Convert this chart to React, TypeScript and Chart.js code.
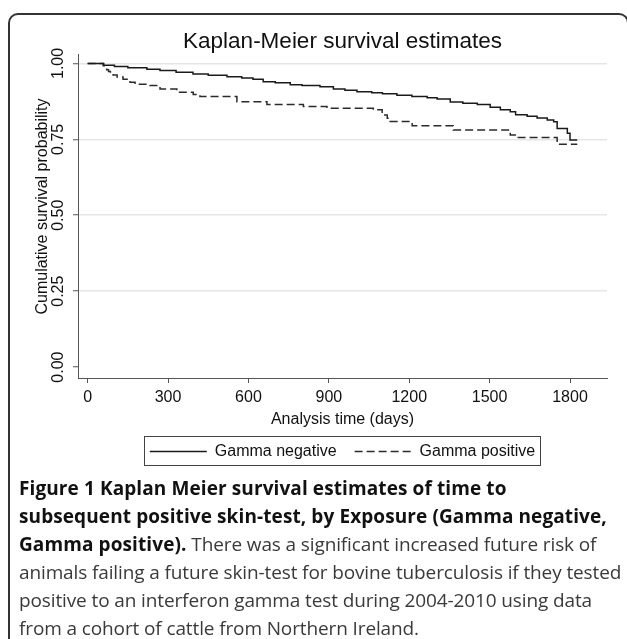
import React, { useEffect, useRef } from 'react';
import { Chart, registerables } from 'chart.js';

Chart.register(...registerables);

const TITLE = 'Kaplan-Meier survival estimates';
const X_TITLE = 'Analysis time (days)';
const Y_TITLE = 'Cumulative survival probability';
const SERIES_NAMES = ['Gamma negative', 'Gamma positive'];
const X_TICKS = [0, 300, 600, 900, 1200, 1500, 1800];
const Y_TICKS = [0, 0.25, 0.5, 0.75, 1];

const NEG_DAYS = [0, 60, 100, 150, 221, 270, 330, 393, 450, 520, 575, 617, 655, 700, 756, 800, 867, 917, 960, 1005, 1060, 1100, 1154, 1210, 1267, 1304, 1353, 1400, 1454, 1502, 1540, 1577, 1597, 1640, 1677, 1715, 1739, 1752, 1790, 1800, 1827];
const NEG_SURV = [1, 0.994, 0.99, 0.986, 0.981, 0.977, 0.971, 0.965, 0.961, 0.956, 0.952, 0.948, 0.94, 0.936, 0.93, 0.927, 0.923, 0.916, 0.912, 0.907, 0.903, 0.9, 0.895, 0.891, 0.887, 0.883, 0.873, 0.869, 0.865, 0.856, 0.847, 0.841, 0.831, 0.826, 0.82, 0.814, 0.808, 0.786, 0.77, 0.748, 0.748];

const POS_DAYS = [0, 58, 65, 71, 78, 85, 95, 110, 132, 158, 177, 233, 270, 333, 394, 419, 557, 669, 805, 893, 1066, 1099, 1118, 1129, 1211, 1364, 1577, 1603, 1752, 1827];
const POS_SURV = [1, 0.992, 0.985, 0.979, 0.973, 0.968, 0.962, 0.955, 0.948, 0.938, 0.931, 0.927, 0.916, 0.905, 0.898, 0.891, 0.874, 0.865, 0.858, 0.852, 0.847, 0.83, 0.819, 0.809, 0.795, 0.781, 0.764, 0.756, 0.734, 0.734];

const CAPTION_BOLD_1 = 'Figure 1 Kaplan Meier survival estimates of time to';
const CAPTION_BOLD_2 = 'subsequent positive skin-test, by Exposure (Gamma negative,';
const CAPTION_BOLD_3 = 'Gamma positive).';
const CAPTION_REG_3 = ' There was a significant increased future risk of';
const CAPTION_REG_4 = 'animals failing a future skin-test for bovine tuberculosis if they tested';
const CAPTION_REG_5 = 'positive to an interferon gamma test during 2004-2010 using data';
const CAPTION_REG_6 = 'from a cohort of cattle from Northern Ireland.';

const FONT = '"Liberation Sans", Arial, Helvetica, sans-serif';

const decorPlugin = {
  id: 'decor',
  afterDraw(chart: any) {
    const { ctx, chartArea, legend } = chart;
    ctx.save();
    ctx.translate(43, (chartArea.top + chartArea.bottom) / 2 - 9.5);
    ctx.rotate(-Math.PI / 2);
    ctx.font = `16px ${FONT}`;
    ctx.fillStyle = '#111';
    ctx.textAlign = 'center';
    ctx.textBaseline = 'middle';
    ctx.fillText(Y_TITLE, 0, 0);
    ctx.restore();

    const hb = legend && legend.legendHitBoxes;
    if (hb && hb.length) {
      const last = hb[hb.length - 1];
      const l = hb[0].left - 6;
      const r = last.left + last.width + 5;
      const t = legend.top + 10.5;
      const b = legend.top + 39.5;
      ctx.save();
      ctx.strokeStyle = '#444';
      ctx.lineWidth = 1;
      ctx.strokeRect(Math.round(l) + 0.5, Math.round(t) + 0.5, Math.round(r - l), Math.round(b - t));
      ctx.restore();
    }
  },
};

export default function App() {
  const ref = useRef<HTMLCanvasElement>(null);

  useEffect(() => {
    const canvas = ref.current;
    if (!canvas) return;
    const chart = new Chart(canvas, {
      type: 'line',
      data: {
        datasets: [
          {
            label: SERIES_NAMES[0],
            data: NEG_DAYS.map((d, i) => ({ x: d, y: NEG_SURV[i] })),
            borderColor: '#1a1a1a',
            backgroundColor: '#1a1a1a',
            borderWidth: 1.5,
            stepped: true,
            pointRadius: 0,
            fill: false,
          },
          {
            label: SERIES_NAMES[1],
            data: POS_DAYS.map((d, i) => ({ x: d, y: POS_SURV[i] })),
            borderColor: '#2b2b2b',
            backgroundColor: '#2b2b2b',
            borderWidth: 1.5,
            borderDash: [8, 4],
            stepped: true,
            pointRadius: 0,
            fill: false,
          },
        ],
      },
      options: {
        responsive: false,
        animation: false,
        devicePixelRatio: 1,
        layout: { padding: { left: 0, right: 20, top: 0, bottom: 10.5 } },
        plugins: {
          title: {
            display: true,
            text: TITLE,
            fullSize: false,
            color: '#111',
            font: { family: FONT, size: 22.5, weight: 'normal', lineHeight: 1 },
            padding: { top: 31, bottom: 0.5 },
          },
          legend: {
            position: 'bottom',
            fullSize: false,
            labels: {
              usePointStyle: true,
              pointStyle: 'line',
              pointStyleWidth: 57,
              padding: 18,
              color: '#111',
              font: { family: FONT, size: 16 },
              generateLabels: (c: any) => {
                const items = (Chart.defaults as any).plugins.legend.labels.generateLabels(c);
                items.forEach((it: any) => {
                  const ds = c.data.datasets[it.datasetIndex];
                  it.lineDash = ds.borderDash || [];
                  it.lineWidth = ds.borderWidth;
                  it.strokeStyle = ds.borderColor;
                });
                return items;
              },
            },
          },
          tooltip: { enabled: false },
        },
        scales: {
          x: {
            type: 'linear',
            min: -36,
            max: 1938,
            afterBuildTicks: (s: any) => {
              s.ticks = X_TICKS.map((v) => ({ value: v }));
            },
            afterFit: (s: any) => {
              s.height = 47.5;
            },
            ticks: {
              color: '#111',
              padding: 5,
              maxRotation: 0,
              font: { family: FONT, size: 16 },
              callback: (v: any) => String(v),
            },
            grid: { drawOnChartArea: false, drawTicks: true, tickLength: 5, tickColor: '#555', tickWidth: 1 },
            border: { display: true, color: '#555', width: 1 },
            title: {
              display: true,
              text: X_TITLE,
              color: '#111',
              font: { family: FONT, size: 16, lineHeight: 1 },
              padding: { top: 0, bottom: -2 },
            },
          },
          y: {
            type: 'linear',
            min: -0.036,
            max: 1.031,
            afterBuildTicks: (s: any) => {
              s.ticks = Y_TICKS.map((v) => ({ value: v }));
            },
            afterFit: (s: any) => {
              s.width = 78;
            },
            ticks: {
              color: '#111',
              minRotation: 90,
              maxRotation: 90,
              crossAlign: 'center',
              padding: -1,
              font: { family: FONT, size: 16 },
              callback: (v: any) => Number(v).toFixed(2),
            },
            grid: {
              color: (c: any) => (c.tick && c.tick.value === 0 ? 'rgba(0,0,0,0)' : '#e6e6e6'),
              lineWidth: 1.5,
              drawTicks: true,
              tickLength: 5,
              tickColor: '#555',
              tickWidth: 1,
            },
            border: { display: true, color: '#555', width: 1 },
          },
        },
      } as any,
      plugins: [decorPlugin],
    });
    return () => chart.destroy();
  }, []);

  const capBase: React.CSSProperties = { height: 28, whiteSpace: 'nowrap' };
  const bold: React.CSSProperties = { fontWeight: 700, color: '#111', letterSpacing: 0.1 };

  return (
    <div style={{ position: 'fixed', left: 0, top: 0, width: 627, height: 639, overflow: 'hidden', background: '#fff' }}>
      <div
        style={{
          position: 'absolute',
          left: 8,
          top: 13,
          width: 621,
          height: 700,
          border: '2px solid #333',
          borderRadius: 10,
          boxSizing: 'border-box',
        }}
      />
      <canvas ref={ref} width={627} height={480} style={{ position: 'absolute', left: 0, top: 0, width: 627, height: 480 }} />
      <div
        style={{
          position: 'absolute',
          left: 19,
          top: 474,
          fontFamily: '"Open Sans", sans-serif',
          fontSize: 19,
          lineHeight: '28px',
          letterSpacing: -0.12,
          color: '#3a3a3a',
        }}
      >
        <div style={capBase}><span style={bold}>{CAPTION_BOLD_1}</span></div>
        <div style={capBase}><span style={bold}>{CAPTION_BOLD_2}</span></div>
        <div style={capBase}><span style={bold}>{CAPTION_BOLD_3}</span>{CAPTION_REG_3}</div>
        <div style={capBase}>{CAPTION_REG_4}</div>
        <div style={capBase}>{CAPTION_REG_5}</div>
        <div style={capBase}>{CAPTION_REG_6}</div>
      </div>
    </div>
  );
}
